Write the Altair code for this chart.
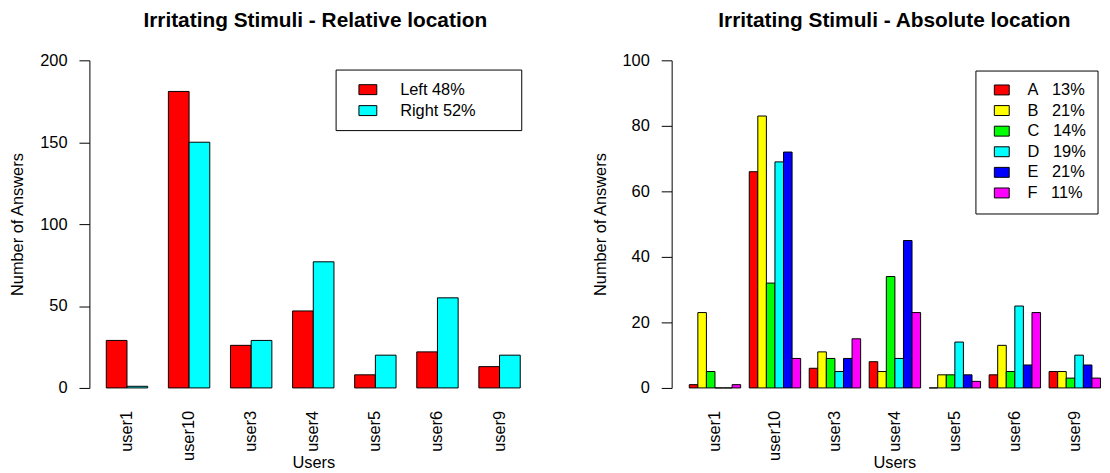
import altair as alt
import pandas as pd

FONT = "Liberation Sans"
NB = "\u00a0"

users = ["user1", "user10", "user3", "user4", "user5", "user6", "user9"]

rel_series = ["Left 48%", "Right 52%"]
rel_left = [29, 181, 26, 47, 8, 22, 13]
rel_right = [1, 150, 29, 77, 20, 55, 20]
rel_colors = ["#FF0000", "#00FFFF"]

abs_series = ["A" + NB * 3 + "13%", "B" + NB * 3 + "21%", "C" + NB * 3 + "14%",
              "D" + NB * 3 + "19%", "E" + NB * 3 + "21%", "F" + NB * 3 + "11%"]
abs_A = [1, 66, 6, 8, 0, 4, 5]
abs_B = [23, 83, 11, 5, 4, 13, 5]
abs_C = [5, 32, 9, 34, 4, 5, 3]
abs_D = [0, 69, 5, 9, 14, 25, 10]
abs_E = [0, 72, 9, 45, 4, 7, 7]
abs_F = [1, 9, 15, 23, 2, 23, 3]
abs_colors = ["#FF0000", "#FFFF00", "#00FF00", "#00FFFF", "#0000FF", "#FF00FF"]

rel_ticks = [0, 50, 100, 150, 200]
abs_ticks = [0, 20, 40, 60, 80, 100]


def long_table(series_names, series_values):
    rows = []
    for name, vals in zip(series_names, series_values):
        for u, v in zip(users, vals):
            rows.append({"user": u, "series": name, "value": v})
    return pd.DataFrame(rows)


df_rel = long_table(rel_series, [rel_left, rel_right])
df_abs = long_table(abs_series, [abs_A, abs_B, abs_C, abs_D, abs_E, abs_F])


def y_axis(values):
    return alt.Axis(
        values=values, grid=False, domainColor="black", domainWidth=1,
        tickColor="black", tickSize=10.5, tickWidth=1, labelPadding=12,
        labelFont=FONT, labelFontSize=16.5, labelColor="black",
        title="Number of Answers", titleFont=FONT, titleFontSize=16.5,
        titleFontWeight="normal", titleColor="black", titleAngle=270,
        titleX=-72, titleY=165, titleAlign="center", titleBaseline="middle",
    )


def x_axis(title_x):
    return alt.Axis(
        title="Users", domain=False, ticks=False, labelAngle=270,
        labelAlign="right", labelBaseline="middle", labelPadding=22.6,
        labelFont=FONT, labelFontSize=16.5, labelColor="black",
        titleFont=FONT, titleFontSize=16.5, titleFontWeight="normal",
        titleColor="black", titleX=title_x, titleY=80.3,
        titleAlign="center", titleBaseline="alphabetic",
    )


def title(text, dx):
    return alt.TitleParams(
        text, font=FONT, fontSize=21, fontWeight="bold", color="black",
        anchor="middle", frame="group", baseline="alphabetic", offset=4.4, dx=dx,
    )


def legend(lx, ly, pad, sym_off, path, size, lab_off, row_pad, extra=None):
    opts = dict(
        orient="none", legendX=lx, legendY=ly,
        direction="vertical", padding=pad, symbolOffset=sym_off,
        strokeColor="black", fillColor="white",
        symbolType=path, symbolSize=size,
        symbolStrokeColor="black", symbolStrokeWidth=1,
        symbolOpacity=1, labelFont=FONT, labelFontSize=16.5,
        labelColor="black", labelOffset=lab_off, rowPadding=row_pad,
    )
    if extra is None:
        opts["title"] = None
    else:
        # a white side title only widens the framed legend box
        opts.update(title="I", titleOrient="right", titleFont=FONT,
                    titleFontSize=16.5, titleColor="white", titlePadding=extra)
    return alt.Legend(**opts)


left = alt.Chart(df_rel).mark_bar(stroke="black", strokeWidth=1).encode(
    x=alt.X("user:N", sort=users,
            scale=alt.Scale(paddingInner=1 / 3, paddingOuter=0.272),
            axis=x_axis(225.5)),
    xOffset=alt.XOffset("series:N", sort=rel_series,
                        scale=alt.Scale(paddingInner=0, paddingOuter=0)),
    y=alt.Y("value:Q", scale=alt.Scale(domain=[0, 200], nice=False),
            axis=y_axis(rel_ticks)),
    fill=alt.Fill("series:N", sort=rel_series,
                  scale=alt.Scale(domain=rel_series, range=rel_colors),
                  legend=legend(248, 9.3, 10.75, 12.25,
                                "M-1,-0.5556H1V0.5556H-1Z", 324, 23, 3.1, 30.4)),
).properties(width=451, height=330,
             title=title("Irritating Stimuli - Relative location", 2))

right = alt.Chart(df_abs).mark_bar(stroke="black", strokeWidth=1).encode(
    x=alt.X("user:N", sort=users,
            scale=alt.Scale(paddingInner=1 / 7, paddingOuter=0.147, align=1),
            axis=x_axis(224.3)),
    xOffset=alt.XOffset("series:N", sort=abs_series,
                        scale=alt.Scale(paddingInner=0, paddingOuter=0)),
    y=alt.Y("value:Q", scale=alt.Scale(domain=[0, 100], nice=False),
            axis=y_axis(abs_ticks)),
    fill=alt.Fill("series:N", sort=abs_series,
                  scale=alt.Scale(domain=abs_series, range=abs_colors),
                  legend=legend(306, 10.3, 11.3, 7,
                                "M-1,-0.6667H1V0.6667H-1Z", 225, 17.6, 3.75)),
).properties(width=432, height=330,
             title=title("Irritating Stimuli - Absolute location", 8.3))

chart = alt.hconcat(left, right, spacing=53.5).resolve_scale(
    fill="independent", x="independent", y="independent", xOffset="independent"
).resolve_legend(fill="independent").properties(
    padding={"left": 1, "top": 0, "right": 0, "bottom": 0},
    background="white",
).configure_view(stroke="transparent")

chart.save("out.html", embed_options={"renderer": "svg", "actions": False})
